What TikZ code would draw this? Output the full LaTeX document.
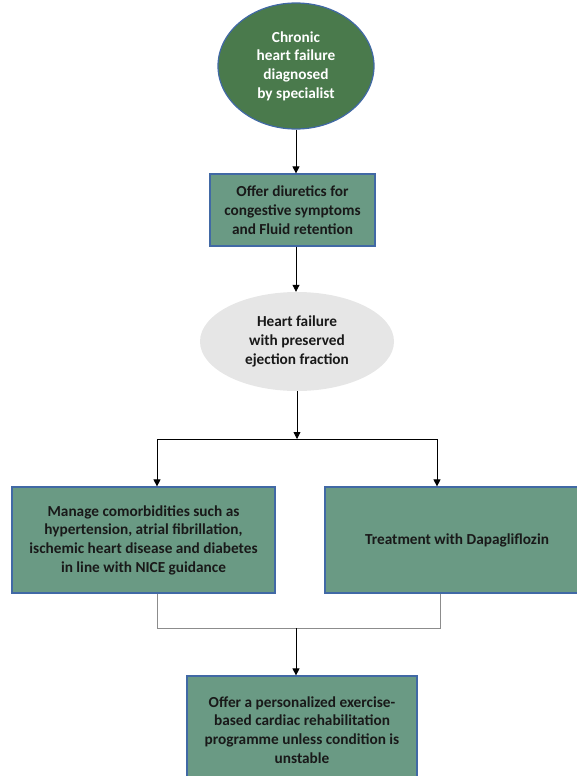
\documentclass[tikz,border=0pt]{standalone}
\usepackage{fontspec}
\setmainfont{Carlito}
\usetikzlibrary{shapes.geometric,arrows.meta}
\definecolor{darkgreen}{RGB}{74,122,76}
\definecolor{boxgreen}{RGB}{106,154,132}
\definecolor{edgeblue}{RGB}{65,105,165}
\definecolor{lightgray}{RGB}{230,230,230}
\definecolor{linegray}{RGB}{140,140,140}
\tikzset{
  txt/.style={font=\fontsize{15.3}{18.7}\selectfont\bfseries, align=center, text=black!90},
  greenbox/.style={txt, draw=edgeblue, line width=1.2pt, fill=boxgreen, rectangle, inner sep=0pt},
  arr/.style={draw=black, line width=0.8pt, -{Triangle[width=7pt,length=7pt]}},
  gline/.style={draw=linegray, line width=1pt},
}
\begin{document}
\begin{tikzpicture}[x=1pt,y=-1pt]
\useasboundingbox (0,0) rectangle (577,776);
\node[txt, ellipse, draw=edgeblue, line width=1.2pt, fill=darkgreen, text=white, minimum width=156pt, minimum height=126pt, inner sep=0pt] (e1) at (296,66) {Chronic\\heart failure\\diagnosed\\by specialist};
\node[greenbox, minimum width=165pt, minimum height=72pt] (b2) at (292.5,210) {Offer diuretics for\\congestive symptoms\\and Fluid retention};
\node[txt, ellipse, fill=lightgray, minimum width=194pt, minimum height=99pt, inner sep=0pt] (e2) at (297,341.5) {Heart failure\\with preserved\\ejection fraction};
\node[greenbox, minimum width=263pt, minimum height=106pt] (b3) at (143.5,540) {Manage comorbidities such as\\hypertension, atrial fibrillation,\\ischemic heart disease and diabetes\\in line with NICE guidance};
\node[greenbox, minimum width=264pt, minimum height=106pt] (b4) at (457,540) {Treatment with Dapagliflozin};
\node[greenbox, minimum width=230pt, minimum height=108pt] (b5) at (302,730) {Offer a personalized exercise-\\based cardiac rehabilitation\\programme unless condition is\\unstable};
\coordinate (split) at (297,439);
\coordinate (sl) at (157,439);
\coordinate (sr) at (437,439);
\coordinate (jl) at (157,628);
\coordinate (jr) at (440,628);
\coordinate (jm) at (296,628);
\draw[arr] (e1.south) -- (e1.south |- b2.north);
\draw[arr] (e1.south |- b2.south) -- (e1.south |- e2.north);
\draw[arr] (e2.south) -- (split);
\draw[line width=0.8pt] (sl) -- (sr);
\draw[arr] (sl) -- (sl |- b3.north);
\draw[arr] (sr) -- (sr |- b4.north);
\draw[gline] (jl |- b3.south) -- (jl) -- (jr) -- (jr |- b4.south);
\draw[arr] (jm) -- (jm |- b5.north);
\end{tikzpicture}
\end{document}
